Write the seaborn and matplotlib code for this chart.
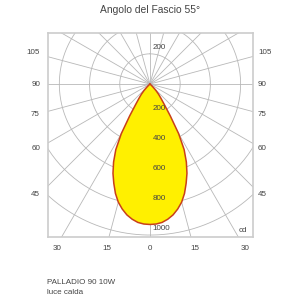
import matplotlib
matplotlib.use("Agg")
import matplotlib.pyplot as plt
import numpy as np
import pandas as pd
import seaborn as sns

# Photometric data (angle from nadir in degrees, intensity in cd)
angles = [0, 2.5, 5, 7.5, 10, 12.5, 15, 17.5, 20, 22.5, 25, 27.5,
          30, 32.5, 35, 37.5, 40, 42.5, 45, 47.5, 50]
intensity = [930, 928, 920, 903, 880, 848, 810, 760, 700, 640, 570, 490,
             380, 250, 165, 120, 90, 60, 30, 10, 0]

ring_values = [200, 400, 600, 800, 1000]
ring_labels = ["200", "400", "600", "800", "1000"]
spoke_step = 15
side_labels = ["105", "90", "75", "60", "45"]
bottom_labels = ["30", "15", "0", "15", "30"]

title = "Angolo del Fascio 55°"
product = "PALLADIO 90 10W"
variant = "luce calda"

sns.set_style("white")
plt.rcParams["font.family"] = ["Liberation Sans", "DejaVu Sans"]

fig = plt.figure(figsize=(3, 3), dpi=100)
ax = fig.add_axes([48 / 300, 63 / 300, 205 / 300, 204 / 300])

grid_col = "#b8b8b8"
txt_col = "#444444"

# rings
t = np.linspace(0, 2 * np.pi, 361)
for r in ring_values:
    ax.plot(r * np.sin(t), r * np.cos(t), color=grid_col, lw=0.6, zorder=1)

# spokes
for a in range(0, 360, spoke_step):
    rad = np.deg2rad(a)
    ax.plot([0, 2000 * np.sin(rad)], [0, -2000 * np.cos(rad)],
            color=grid_col, lw=0.6, zorder=1)

# intensity curve, mirrored around nadir
ang = np.array(angles, dtype=float)
val = np.array(intensity, dtype=float)
full_ang = np.concatenate([-ang[::-1], ang[1:]])
full_val = np.concatenate([val[::-1], val[1:]])
rad = np.deg2rad(full_ang)
curve = pd.DataFrame({"x": full_val * np.sin(rad), "y": -full_val * np.cos(rad)})
ax.fill(curve["x"], curve["y"], color="#fff000", zorder=2, lw=0)
sns.lineplot(data=curve, x="x", y="y", sort=False, estimator=None,
             color="#c8401a", lw=1.1, ax=ax, zorder=3)

# ring labels
for r, lab in zip(ring_values, ring_labels):
    ax.text(18, -r + 18, lab, fontsize=5.8, color=txt_col, ha="left",
            va="bottom", zorder=4)
ax.text(18, ring_values[0] + 18, ring_labels[0], fontsize=5.8, color=txt_col,
        ha="left", va="bottom", zorder=4)
ax.text(640, -995, "cd", fontsize=5.8, color=txt_col, ha="right",
        va="bottom", zorder=4)

ax.set_xlim(-675, 682)
ax.set_ylim(-1013, 338)
ax.set_xticks([])
ax.set_yticks([])
ax.set_xlabel("")
ax.set_ylabel("")
for s in ax.spines.values():
    s.set_color("#cccccc")
    s.set_linewidth(1.2)

# angle labels around the frame
side_y = [53, 84, 114, 148, 195]
for lab, py in zip(side_labels, side_y):
    fig.text(40 / 300, 1 - py / 300, lab, fontsize=5.8, color=txt_col,
             ha="right", va="center")
    fig.text(258 / 300, 1 - py / 300, lab, fontsize=5.8, color=txt_col,
             ha="left", va="center")
bottom_x = [57, 107, 150, 195, 245]
for lab, px in zip(bottom_labels, bottom_x):
    fig.text(px / 300, 1 - 249 / 300, lab, fontsize=5.8, color=txt_col,
             ha="center", va="center")

fig.text(0.5, 1 - 10 / 300, title, fontsize=7.4, color=txt_col,
         ha="center", va="center")
fig.text(47 / 300, 1 - 283 / 300, product, fontsize=5.8, color=txt_col,
         ha="left", va="center")
fig.text(47 / 300, 1 - 293 / 300, variant, fontsize=5.8, color=txt_col,
         ha="left", va="center")

fig.savefig("out.png", dpi=100)
